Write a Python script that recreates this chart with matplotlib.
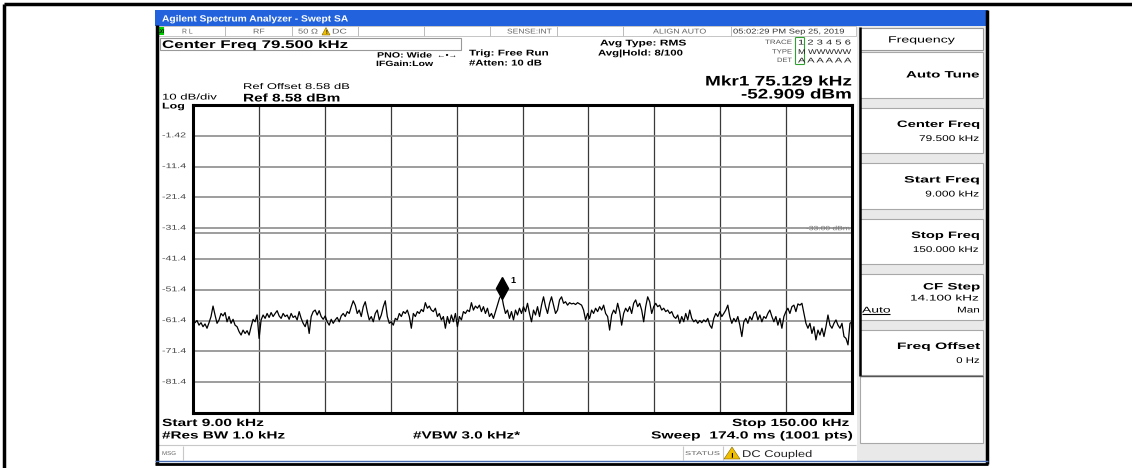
import numpy as np
import matplotlib
matplotlib.use("Agg")
import matplotlib.pyplot as plt
from matplotlib import patheffects
from matplotlib.patches import Rectangle, Polygon
from matplotlib.transforms import Affine2D, offset_copy, blended_transform_factory

FONT = ['Liberation Sans', 'DejaVu Sans']
W, H = 1132, 468

# sweep settings
start_khz, stop_khz = 9.0, 150.0
ref_level = 8.58
db_div = 10
display_line = -33.00
mkr_freq, mkr_level = 75.129, -52.909
y_labels = ['-1.42', '-11.4', '-21.4', '-31.4', '-41.4', '-51.4', '-61.4', '-71.4', '-81.4']

# trace 1 (dBm) at even steps across the sweep
levels = [
    -61.2, -62.1, -61.4, -62.9, -62.1, -63.4, -62.5, -63.9, -62.1, -60.1,
    -56.7, -59.6, -62.3, -61.2, -59.1, -59.9, -58.8, -61.8, -60.1, -62.3,
    -61.0, -62.9, -63.4, -65.0, -66.1, -64.5, -65.6, -64.7, -66.1, -63.4,
    -61.0, -61.8, -59.6, -67.2, -61.2, -59.6, -60.7, -59.1, -60.4, -58.8,
    -60.1, -59.1, -58.2, -59.9, -60.7, -59.1, -60.1, -59.6, -61.0, -59.1,
    -60.4, -59.9, -61.2, -58.5, -60.7, -62.3, -63.4, -61.2, -65.6, -60.1,
    -58.5, -58.0, -59.6, -58.2, -60.1, -61.0, -59.9, -61.8, -62.9, -61.0,
    -62.3, -61.2, -60.4, -61.8, -59.9, -59.1, -60.1, -58.5, -59.1, -56.9,
    -55.0, -56.4, -59.1, -58.0, -60.1, -56.9, -55.3, -58.5, -61.2, -60.1,
    -61.8, -59.1, -58.0, -61.2, -59.6, -56.9, -55.0, -60.1, -62.3, -61.8,
    -62.9, -60.7, -61.2, -59.1, -60.1, -58.5, -59.1, -58.0, -60.1, -63.9,
    -59.1, -60.1, -58.5, -59.1, -57.8, -58.5, -55.6, -57.4, -56.7, -58.0,
    -58.5, -57.4, -60.1, -59.1, -61.2, -60.1, -63.9, -60.1, -62.3, -59.6,
    -61.8, -59.1, -63.4, -60.1, -61.2, -58.5, -59.1, -58.0, -58.5, -55.6,
    -58.0, -56.7, -57.4, -56.4, -58.5, -56.9, -59.1, -57.4, -60.1, -59.1,
    -60.7, -58.5, -56.4, -54.2, -52.9,
    -56.4, -59.1, -58.0, -60.7, -58.5, -61.2, -58.0, -59.6, -57.4, -59.1,
    -56.9, -58.5, -55.8, -59.1, -61.8, -58.0, -59.6, -56.9, -60.1, -56.4,
    -53.7, -56.9, -59.1, -55.8, -53.7, -56.4, -59.1, -58.0, -54.7, -53.7,
    -55.8, -55.3, -56.4, -55.6, -56.0, -55.8, -56.2, -55.6, -56.0, -56.4,
    -58.0, -61.2, -59.1, -60.7, -58.0, -59.1, -57.4, -58.5, -56.9, -58.0,
    -56.4, -59.1, -60.1, -64.5, -59.6, -58.0, -59.1, -55.8, -58.5, -62.9,
    -59.1, -57.4, -58.5, -56.9, -59.1, -55.8, -54.7, -56.9, -55.8, -58.0,
    -61.8, -56.9, -53.7, -55.3, -59.1, -56.9, -55.8, -56.9, -56.4, -58.0,
    -57.4, -58.5, -58.0, -59.1, -58.5, -60.1, -60.7, -59.6, -62.3, -60.1,
    -61.8, -59.1, -61.2, -58.0, -60.7, -61.8, -61.2, -62.3, -61.4, -62.1,
    -61.2, -61.8, -60.7, -62.9, -63.9, -60.7, -59.1, -60.1, -58.5, -60.1,
    -59.1, -58.0, -56.4, -60.1, -62.3, -60.7, -61.8, -60.1, -62.9, -66.6,
    -61.8, -60.7, -62.3, -60.1, -61.2, -59.1, -58.5, -61.2, -59.6, -61.8,
    -60.1, -60.7, -59.1, -58.0, -60.1, -61.8, -60.1, -62.9, -60.7, -63.9,
    -60.1, -58.5, -57.4, -59.1, -56.9, -56.4, -58.5, -56.0, -56.4, -55.8,
    -59.1, -62.3, -63.9, -62.3, -65.6, -63.4, -67.7, -64.5, -66.1, -63.9,
    -66.6, -63.4, -59.6, -62.9, -63.9, -62.3, -61.2, -62.9, -63.9, -62.3,
    -66.6, -67.2, -69.3, -62.3, -61.8,
]
freqs = np.linspace(start_khz, stop_khz, len(levels))

softkeys = [('Auto Tune', ''), ('Center Freq', '79.500 kHz'), ('Start Freq', '9.000 kHz'),
            ('Stop Freq', '150.000 kHz'), ('CF Step', '14.100 kHz'), ('Freq Offset', '0 Hz')]


class Stretch(patheffects.AbstractPathEffect):
    """widen glyphs horizontally about x0 (screen text is stretched)"""
    def __init__(self, x0, sx):
        super().__init__()
        self.x0, self.sx = x0, sx

    def draw_path(self, renderer, gc, tpath, affine, rgbFace=None):
        st = Affine2D().translate(-self.x0, 0).scale(self.sx, 1).translate(self.x0, 0)
        renderer.draw_path(gc, tpath, affine + st, rgbFace)


fig = plt.figure(figsize=(W / 100, H / 100), dpi=100)
bg = fig.add_axes([0, 0, 1, 1])
bg.set_xlim(0, W)
bg.set_ylim(H, 0)
bg.axis('off')

stretched = []


def put(x, y, s, size, w=None, target=None, **kw):
    kw.setdefault('fontweight', 'bold')
    kw.setdefault('va', 'center_baseline')
    kw.setdefault('color', 'black')
    t = (target or bg).text(x, y, s, fontsize=size, family=FONT, **kw)
    stretched.append((t, w))
    return t


def box(x0, y0, x1, y1, fc='white', ec='none', lw=0.8, z=1):
    bg.add_patch(Rectangle((x0, y0), x1 - x0, y1 - y0, fc=fc, ec=ec, lw=lw, zorder=z))


def line(xs, ys, c='black', lw=1.0, z=2):
    bg.plot(xs, ys, color=c, lw=lw, zorder=z, solid_capstyle='butt')


# page frame
line([4, 4], [4, H], lw=2.5)
line([4, W], [4, 4], lw=2.5)

# analyzer screen
box(155, 10, 988, 464)
box(155, 10, 988, 25.5, fc='#2262dc')
put(162, 18, 'Agilent Spectrum Analyzer - Swept SA', 6.5, w=186, color='white')

# status row
box(158, 25.5, 856, 36, ec='#bbbbbb', lw=0.6)
for x in [225, 292, 358, 424, 490, 557, 623, 731]:
    line([x, x], [26, 36], c='#bbbbbb', lw=0.7)
box(156.5, 27, 164, 35, fc='#00d000', z=3)
put(157, 31, 'LXI', 4, w=7, fontstyle='italic', zorder=4)
grey = '#666666'
put(182, 31, 'R L', 5, w=11, fontweight='normal', color=grey)
put(253, 31, 'RF', 5, w=12, fontweight='normal', color=grey)
put(298, 31, '50 Ω', 5, w=20, fontweight='normal', color=grey)
bg.add_patch(Polygon([[322, 35], [330, 35], [326, 27.5]], fc='#f0c000', ec='#806000', lw=0.4, zorder=3))
put(326, 32.3, '!', 4, ha='center')
put(332, 31, 'DC', 5, w=15, fontweight='normal', color=grey)
put(507, 31, 'SENSE:INT', 5, w=46, fontweight='normal', color=grey)
put(653, 31, 'ALIGN AUTO', 5, w=54, fontweight='normal', color=grey)
put(733, 31, '05:02:29 PM Sep 25, 2019', 5, w=114, fontweight='normal', color='#333333')

# header block
box(160, 38, 461, 50, ec='#999999', lw=0.8)
put(162, 44, 'Center Freq 79.500 kHz', 8, w=187)
put(377, 55, 'PNO: Wide', 5.5, w=55)
put(437, 55, '\u2190\u2022\u2192', 5.5, w=20, fontweight='normal')
put(376, 63.5, 'IFGain:Low', 5.5, w=57)
put(469, 53, 'Trig: Free Run', 6, w=81)
put(469, 63, '#Atten: 10 dB', 6, w=74)
put(600, 43, 'Avg Type: RMS', 6, w=87)
put(598, 53, 'Avg|Hold: 8/100', 6, w=86)
put(792, 42, 'TRACE', 4.5, w=27, ha='right', fontweight='normal', color='#555555')
put(792, 51.5, 'TYPE', 4.5, w=20, ha='right', fontweight='normal', color='#555555')
put(792, 60, 'DET', 4.5, w=15, ha='right', fontweight='normal', color='#555555')
line([794.5, 794.5], [37, 64], c='#30a030', lw=0.8)
line([804, 804], [37, 64], c='#30a030', lw=0.8)
line([794.5, 804], [37, 37], c='#30a030', lw=0.8)
line([794.5, 804], [64, 64], c='#30a030', lw=0.8)
put(798, 42, '1 2 3 4 5 6', 5, w=54, fontweight='normal', color='#222222')
put(798, 51.5, 'M WWWWW', 5, w=54, fontweight='normal', color='#222222')
put(798, 60, 'A A A A A A', 5, w=54, fontweight='normal', color='#222222')
put(852, 80, 'Mkr1 75.129 kHz', 10, w=147, ha='right')
put(852, 93, '-52.909 dBm', 10, w=111, ha='right')
put(243, 86.5, 'Ref Offset 8.58 dB', 6, w=108, fontweight='normal')
put(162, 97, '10 dB/div', 6, w=56, fontweight='normal')
put(243, 97.5, 'Ref 8.58 dBm', 8, w=98)
put(162, 106, 'Log', 6, w=23)

# footer
put(162, 422, 'Start 9.00 kHz', 7.5, w=102)
put(162, 434.5, '#Res BW 1.0 kHz', 7.5, w=123)
put(413, 434.5, '#VBW 3.0 kHz*', 7.5, w=107)
put(849, 422, 'Stop 150.00 kHz', 7.5, w=117, ha='right')
put(852, 434.5, 'Sweep  174.0 ms (1001 pts)', 7.5, w=201, ha='right')
line([158, 856], [445, 445], c='#c8c8c8', lw=0.8)
line([183, 183], [446, 460], c='#c8c8c8', lw=0.8)
line([683, 683], [446, 460], c='#c8c8c8', lw=0.8)
line([723, 723], [446, 460], c='#c8c8c8', lw=0.8)
put(162, 453, 'MSG', 4, w=14, fontweight='normal', color=grey)
put(685, 453, 'STATUS', 4, w=34, fontweight='normal', color=grey)
bg.add_patch(Polygon([[724, 459], [740, 459], [732, 447]], fc='#f0c000', ec='#806000', lw=0.4, zorder=3))
put(732, 455.5, '!', 6, ha='center')
put(742, 453, 'DC Coupled', 7, w=70, fontweight='normal', color='#222222')

# softkey panel
box(857, 25.5, 986, 462, fc='#e9e9e9')
box(860, 28, 983, 50, ec='#9a9a9a')
put(921.5, 39, 'Frequency', 6.5, w=67, ha='center', fontweight='normal')
for i, (name, value) in enumerate(softkeys):
    top = 52 + 55.5 * i
    box(860, top, 983, top + 45.5, ec='#a8a8a8')
    if name == 'Auto Tune':
        put(980, top + 22, name, 6.7, w=74, ha='right')
    elif name == 'CF Step':
        put(980, top + 12, name, 6.7, w=57, ha='right')
        put(980, top + 24, value, 6, w=70, ha='right', fontweight='normal')
        put(862, top + 36, 'Auto', 6, w=29, fontweight='normal')
        line([862, 890], [top + 40, top + 40], lw=0.8, z=3)
        put(980, top + 36, 'Man', 6, w=23, ha='right', fontweight='normal')
    else:
        put(980, top + 16, name, 6.7, w=7.1 * len(name) + 5, ha='right')
        put(980, top + 31, value, 6, w=6.2 * len(value) - 1, ha='right', fontweight='normal')
box(860, 376, 983, 443, ec='#a8a8a8')
line([859.5, 859.5], [27, 376], lw=1.8, z=3)
line([860, 983], [375.8, 375.8], c='#555555', lw=1.0, z=3)

# screen edges
line([156.5, 156.5], [25, 464], lw=2.5, z=4)
line([986.5, 986.5], [10, 464], lw=2.5, z=4)
line([155, 988], [461, 461], c='#4a6fb5', lw=1.0, z=4)
line([155, 988], [463.5, 463.5], lw=2.0, z=4)

# trace window
ax = fig.add_axes([193 / W, (H - 413) / H, 659 / W, 308 / H])
ax.set_xlim(start_khz, stop_khz)
ax.set_ylim(ref_level - 10 * db_div, ref_level)
ax.set_xticks(np.linspace(start_khz, stop_khz, 11))
ax.set_yticks(ref_level - db_div * np.arange(11))
ax.tick_params(length=0, labelleft=False, labelbottom=False)
ax.grid(axis='x', color='#3a3a3a', lw=0.9)
ax.grid(axis='y', color='#8c8c8c', lw=1.2)
ax.set_axisbelow(True)
for sp in ax.spines.values():
    sp.set_linewidth(2.2)

ax.axhline(display_line, color='#8c8c8c', lw=1.2, zorder=1.5)
ax.plot(freqs, levels, color='black', lw=0.9, zorder=3)

mk = offset_copy(ax.transData, fig=fig, x=0, y=6, units='dots')
ax.plot([mkr_freq], [mkr_level], marker='d', ms=11, color='black', transform=mk, zorder=4)
ax.annotate('1', (mkr_freq, mkr_level), xytext=(8, 14), textcoords='offset pixels',
            fontsize=6.5, fontweight='bold', family=FONT, va='center')

lab_tr = blended_transform_factory(bg.transData, ax.transData)
for v, s in zip(ref_level - db_div * np.arange(1, 10), y_labels):
    put(162, v, s, 5, w=4.9 * len(s), target=ax, transform=lab_tr, va='center',
        fontweight='normal', color='#444444', clip_on=False)
put(850, display_line + 0.6, '%.2f dBm' % display_line, 4.5, w=44, target=ax, ha='right',
    va='bottom', fontweight='normal', color='#777777',
    transform=blended_transform_factory(bg.transData, ax.transData))

# apply horizontal stretch so text widths match the screen
r = fig.canvas.get_renderer()
for t, w in stretched:
    if w is None:
        continue
    sx = w / t.get_window_extent(r).width
    x0 = t.get_transform().transform(t.get_position())[0]
    t.set_path_effects([Stretch(x0, sx)])

fig.savefig('out.png', dpi=100)
